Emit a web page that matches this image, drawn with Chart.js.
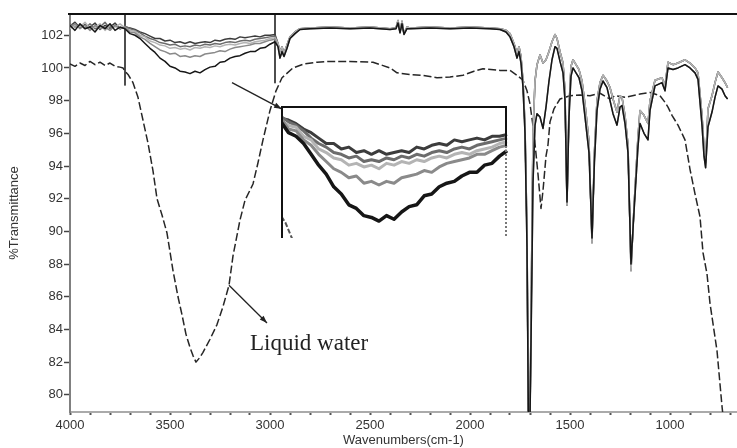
<!DOCTYPE html>
<html>
<head>
<meta charset="utf-8">
<script src="https://cdn.jsdelivr.net/npm/chart.js@4.4.1/dist/chart.umd.min.js"></script>
<style>
  html, body { margin: 0; padding: 0; background: #fff; }
  #wrap { position: relative; width: 737px; height: 448px; }
  #wrap canvas { display: block; }
  #inset { position: absolute; left: 281px; top: 106px; background: #fff; }
</style>
</head>
<body>
<div id="wrap">
  <canvas id="spectrum" width="737" height="448"></canvas>
  <canvas id="inset" width="227" height="132"></canvas>
</div>
<script>
// axis ticks
const xTickLabels = [4000, 3500, 3000, 2500, 2000, 1500, 1000];
const xMinorTicks = [4000, 3900, 3800, 3700, 3600, 3500, 3400, 3300, 3200, 3100, 3000, 2900, 2800, 2700,
  2600, 2500, 2400, 2300, 2200, 2100, 2000, 1900, 1800, 1700, 1600, 1500, 1400, 1300, 1200, 1100,
  1000, 900, 800, 700];
const yTicks = [80, 82, 84, 86, 88, 90, 92, 94, 96, 98, 100, 102];

// wavenumber range blown up in the inset
const insetRange = [3725, 2975];

// O-H stretch region, shared grid for the five film spectra
const ohWn = [
  4000, 3975, 3950, 3925, 3900, 3875, 3850,
  3825, 3800, 3775, 3750, 3725, 3700, 3675,
  3650, 3625, 3600, 3575, 3550, 3525, 3500,
  3475, 3450, 3425, 3400, 3375, 3350, 3325,
  3300, 3275, 3250, 3225, 3200, 3175, 3150,
  3125, 3100, 3075, 3050, 3025, 3000, 2975];

const blackOH = [
  102.6, 102.3, 102.7, 102.4, 102.5, 102.2, 102.6,
  102.4, 102.7, 102.3, 102.5, 102.4, 102.1, 102.0,
  101.8, 101.5, 101.2, 100.95, 100.6, 100.4, 100.1,
  100.0, 99.8, 99.75, 99.65, 99.8, 99.7, 99.9,
  100.05, 100.1, 100.35, 100.4, 100.6, 100.7, 100.75,
  100.9, 101.0, 101.0, 101.2, 101.25, 101.45, 101.6];

const grayLowOH = [
  102.5, 102.7, 102.4, 102.6, 102.3, 102.6, 102.4,
  102.5, 102.3, 102.6, 102.4, 102.5, 102.2, 102.15,
  101.9, 101.75, 101.5, 101.3, 101.1, 101.0, 100.85,
  100.9, 100.7, 100.75, 100.65, 100.75, 100.7, 100.85,
  100.9, 100.95, 101.05, 101.0, 101.15, 101.25, 101.3,
  101.35, 101.4, 101.5, 101.5, 101.6, 101.7, 101.75];

const lightOH = [
  102.4, 102.6, 102.5, 102.8, 102.4, 102.5, 102.7,
  102.3, 102.6, 102.5, 102.7, 102.45, 102.3, 102.25,
  102.0, 101.9, 101.65, 101.55, 101.4, 101.35, 101.2,
  101.25, 101.15, 101.2, 101.1, 101.25, 101.2, 101.3,
  101.25, 101.35, 101.3, 101.4, 101.45, 101.4, 101.5,
  101.55, 101.5, 101.6, 101.65, 101.7, 101.8, 101.85];

const midOH = [
  102.7, 102.5, 102.6, 102.4, 102.7, 102.4, 102.5,
  102.8, 102.4, 102.6, 102.4, 102.55, 102.4, 102.3,
  102.15, 101.95, 101.8, 101.7, 101.55, 101.5, 101.4,
  101.45, 101.3, 101.35, 101.3, 101.4, 101.35, 101.45,
  101.4, 101.5, 101.45, 101.55, 101.6, 101.55, 101.65,
  101.7, 101.65, 101.75, 101.8, 101.85, 101.9, 101.95];

const topOH = [
  102.55, 102.8, 102.45, 102.65, 102.5, 102.75, 102.35,
  102.6, 102.5, 102.75, 102.4, 102.5, 102.45, 102.35,
  102.2, 102.1, 101.95, 101.8, 101.8, 101.65, 101.7,
  101.55, 101.6, 101.5, 101.6, 101.5, 101.55, 101.6,
  101.55, 101.7, 101.65, 101.75, 101.8, 101.75, 101.9,
  101.85, 101.9, 101.95, 101.9, 102.0, 102.0, 102.05];

// fingerprint region below 3000 cm-1, where the film spectra overlap
const fpWn = [
  2960, 2950, 2940, 2930, 2915, 2900, 2875, 2850, 2800, 2700,
  2600, 2500, 2400, 2370, 2360, 2350, 2340, 2330, 2315, 2300,
  2200, 2100, 2000, 1900, 1850, 1820, 1800, 1780, 1765, 1755,
  1745, 1735, 1725, 1715, 1708, 1700, 1692, 1685, 1675, 1665,
  1650, 1635, 1620, 1605, 1590, 1575, 1565, 1550, 1535, 1525,
  1515, 1505, 1495, 1485, 1470, 1455, 1440, 1425, 1405, 1390,
  1378, 1365, 1350, 1335, 1315, 1300, 1285, 1265, 1250, 1240,
  1225, 1210, 1195, 1180, 1160, 1150, 1130, 1110, 1100, 1075,
  1040, 1025, 1010, 985, 960, 925, 900, 875, 860, 840,
  830, 822, 810, 790, 775, 760, 740, 725, 712];

const fpUpper = [
  101.5, 101.0, 101.3, 100.9, 101.4, 101.9, 102.2, 102.4, 102.45, 102.5,
  102.45, 102.5, 102.4, 102.45, 102.9, 102.2, 102.85, 102.1, 102.5, 102.45,
  102.5, 102.45, 102.5, 102.45, 102.4, 102.3, 102.1, 101.5, 100.9, 101.3,
  100.7, 99.2, 96.5, 90.0, 78.5, 78.5, 88.0, 96.0, 99.2, 100.2,
  100.8, 100.3, 100.5, 101.0, 101.6, 102.05, 101.8, 101.0, 100.3, 98.6,
  91.6, 97.6, 100.1, 100.5, 100.2, 99.9, 99.2, 97.8, 95.5, 89.3,
  94.8, 98.0, 99.1, 99.55, 99.2, 98.8, 98.1, 97.3, 98.3, 98.2,
  97.1, 95.3, 87.6, 91.5, 95.8, 97.4, 97.1, 96.6, 98.0, 99.25,
  99.4, 98.9, 100.35, 100.2, 100.3, 100.5, 100.3, 100.0, 99.7, 97.1,
  95.1, 94.2, 97.5, 98.3, 99.1, 99.75, 99.4, 99.1, 98.8];

const fpLower = [
  101.3, 100.6, 101.0, 100.7, 101.2, 101.8, 102.1, 102.35, 102.4, 102.45,
  102.4, 102.45, 102.35, 102.4, 102.75, 102.15, 102.7, 102.05, 102.4, 102.4,
  102.45, 102.4, 102.45, 102.4, 102.35, 102.2, 101.9, 101.3, 100.6, 101.0,
  100.3, 98.8, 96.0, 89.0, 78.5, 78.5, 86.0, 93.0, 96.5, 97.2,
  97.0, 96.3, 97.6, 99.2, 100.5, 101.3, 101.2, 100.4, 99.7, 98.0,
  91.8, 97.0, 99.5, 100.0, 99.7, 99.4, 98.6, 97.0, 94.8, 89.6,
  94.2, 97.4, 98.7, 99.2, 98.8, 98.0, 97.2, 96.5, 97.6, 97.7,
  96.6, 94.8, 88.0, 91.2, 95.2, 96.6, 96.0, 95.6, 97.4, 98.9,
  99.1, 98.6, 100.0, 99.9, 100.0, 100.2, 100.0, 99.7, 99.3, 96.5,
  94.6, 93.9, 96.4, 97.3, 98.2, 98.9, 98.7, 98.3, 98.1];

// liquid water reference spectrum
const waterWn = [
  4000, 3975, 3950, 3925, 3900, 3875, 3850, 3825, 3800, 3775,
  3750, 3735, 3725, 3710, 3700, 3685, 3660, 3635, 3610, 3585,
  3565, 3540, 3515, 3485, 3460, 3440, 3420, 3400, 3385, 3370,
  3350, 3335, 3300, 3265, 3235, 3205, 3185, 3150, 3125, 3085,
  3060, 3035, 3000, 2970, 2940, 2885, 2830, 2765, 2700, 2600,
  2485, 2400, 2365, 2300, 2235, 2165, 2100, 2035, 1980, 1935,
  1850, 1800, 1765, 1735, 1715, 1700, 1680, 1660, 1645, 1635,
  1620, 1610, 1600, 1580, 1550, 1500, 1450, 1400, 1350, 1300,
  1275, 1225, 1150, 1100, 1050, 1025, 1010, 990, 960, 925,
  900, 875, 850, 835, 815, 800, 765, 740, 720];

const waterT = [
  100.25, 100.1, 100.3, 100.15, 100.4, 100.2, 100.35, 100.15, 100.3, 100.1,
  100.05, 100.0, 99.8, 99.6, 99.4, 99.1, 98.2, 96.8, 95.4, 93.7,
  92.0, 91.0, 89.9, 87.6, 86.0, 84.9, 83.7, 82.9, 82.4, 82.0,
  82.3, 82.6, 83.4, 84.3, 85.4, 86.7, 88.5, 90.7, 91.9, 92.9,
  94.2, 95.6, 97.4, 98.6, 99.4, 100.0, 100.25, 100.35, 100.4, 100.4,
  100.35, 100.0, 99.7, 99.6, 99.55, 99.4, 99.45, 99.55, 99.8, 99.95,
  99.85, 99.85, 99.55, 99.25, 98.6, 97.8, 96.0, 93.5, 91.4, 92.5,
  94.6, 95.3, 96.7, 97.5, 98.1, 98.3, 98.35, 98.3, 98.45, 98.1,
  98.3, 98.2, 98.4, 98.5, 98.3, 97.9, 97.6, 97.1, 96.5, 95.6,
  93.8, 92.3, 90.9, 88.7, 87.4, 85.6, 82.7, 79.3, 77.0];

const FONT = "'Liberation Sans', Arial, sans-serif";

function toPoints(wn, t) {
  return wn.map((w, i) => ({ x: w, y: t[i] }));
}

// first entry is drawn on top
const films = [
  { color: '#161616', oh: blackOH, fp: fpLower, inW: 3.5 },
  { color: '#8a8a8a', oh: grayLowOH, fp: fpLower, inW: 3 },
  { color: '#b4b4b4', oh: lightOH, fp: fpUpper, inW: 3 },
  { color: '#6c6c6c', oh: midOH, fp: fpUpper, inW: 3 },
  { color: '#3c3c3c', oh: topOH, fp: fpUpper, inW: 3 }
];

const waterPoints = toPoints(waterWn, waterT);

const mainSets = films.map(f => ({
  data: toPoints(ohWn.concat(fpWn), f.oh.concat(f.fp)),
  borderColor: f.color,
  borderWidth: 1.5
}));
mainSets.push({
  data: waterPoints,
  borderColor: '#262626',
  borderWidth: 1.5,
  borderDash: [8, 3]
});
// vertical markers bounding the magnified range
mainSets.push({
  data: [
    { x: insetRange[0], y: 103.4 }, { x: insetRange[0], y: 98.95 }, { x: insetRange[0], y: null },
    { x: insetRange[1], y: 103.4 }, { x: insetRange[1], y: 99.1 }
  ],
  borderColor: '#222',
  borderWidth: 1.6,
  spanGaps: false
});

function drawArrow(ctx, x1, y1, x2, y2) {
  const ang = Math.atan2(y2 - y1, x2 - x1);
  ctx.beginPath();
  ctx.moveTo(x1, y1);
  ctx.lineTo(x2, y2);
  ctx.stroke();
  ctx.beginPath();
  ctx.moveTo(x2, y2);
  ctx.lineTo(x2 - 8 * Math.cos(ang - 0.35), y2 - 8 * Math.sin(ang - 0.35));
  ctx.lineTo(x2 - 8 * Math.cos(ang + 0.35), y2 - 8 * Math.sin(ang + 0.35));
  ctx.closePath();
  ctx.fill();
}

// top frame line, arrows and the water label
const annotate = {
  id: 'annotate',
  afterDraw(chart) {
    const { ctx, chartArea, scales: { x, y } } = chart;
    ctx.save();
    ctx.strokeStyle = '#111';
    ctx.lineWidth = 2;
    ctx.beginPath();
    ctx.moveTo(chartArea.left - 2, chartArea.top);
    ctx.lineTo(chartArea.right, chartArea.top);
    ctx.stroke();

    ctx.lineWidth = 1.3;
    ctx.strokeStyle = '#222';
    ctx.fillStyle = '#222';
    drawArrow(ctx, x.getPixelForValue(3190), y.getPixelForValue(99.1),
      x.getPixelForValue(2942), y.getPixelForValue(97.5));
    drawArrow(ctx, x.getPixelForValue(3205), y.getPixelForValue(86.7),
      x.getPixelForValue(3015), y.getPixelForValue(84.4));

    ctx.font = "23px 'Liberation Serif', 'Times New Roman', serif";
    ctx.textBaseline = 'alphabetic';
    ctx.textAlign = 'left';
    ctx.fillText('Liquid water', x.getPixelForValue(3100), y.getPixelForValue(82.75));
    ctx.restore();
  }
};

new Chart(document.getElementById('spectrum'), {
  type: 'line',
  data: { datasets: mainSets },
  options: {
    responsive: false,
    animation: false,
    events: [],
    layout: { padding: { top: 14, right: 0, bottom: 0, left: 0 } },
    plugins: { legend: { display: false }, tooltip: { enabled: false } },
    elements: { point: { radius: 0 }, line: { tension: 0, borderJoinStyle: 'round' } },
    scales: {
      x: {
        type: 'linear',
        reverse: true,
        min: 665,
        max: 4000,
        afterBuildTicks: s => { s.ticks = xMinorTicks.map(v => ({ value: v })); },
        afterFit: s => { s.height = 36; },
        ticks: {
          autoSkip: false,
          maxRotation: 0,
          padding: 3,
          color: '#333',
          font: { family: FONT, size: 13 },
          callback: v => xTickLabels.includes(v) ? String(v) : ''
        },
        grid: { drawOnChartArea: false, drawTicks: true, tickLength: 3, tickWidth: 2, tickColor: '#555' },
        border: { color: '#aaa', width: 2 },
        title: {
          display: true,
          text: 'Wavenumbers(cm-1)',
          color: '#333',
          font: { family: FONT, size: 13 },
          padding: { top: 0, bottom: 0 }
        }
      },
      y: {
        min: 78.95,
        max: 103.3,
        afterBuildTicks: s => { s.ticks = yTicks.map(v => ({ value: v })); },
        afterFit: s => { s.width = 70; },
        ticks: {
          padding: 1,
          color: '#333',
          font: { family: FONT, size: 13 },
          callback: v => String(v)
        },
        grid: { drawOnChartArea: false, drawTicks: true, tickLength: 6, tickWidth: 1.5, tickColor: '#444' },
        border: { color: '#808080', width: 2, dash: [2, 2] },
        title: {
          display: true,
          text: '%Transmittance',
          color: '#333',
          font: { family: FONT, size: 13 },
          padding: { top: 7, bottom: 0 }
        }
      }
    }
  },
  plugins: [annotate]
});

// magnified view of the O-H band
const insetSets = films.map(f => ({
  data: toPoints(ohWn, f.oh),
  borderColor: f.color,
  borderWidth: f.inW
}));
insetSets.push({
  data: waterPoints,
  borderColor: '#555',
  borderWidth: 2,
  borderDash: [5, 2]
});

const insetFrame = {
  id: 'insetFrame',
  afterDraw(chart) {
    const { ctx, width, height } = chart;
    ctx.save();
    ctx.strokeStyle = '#111';
    ctx.lineWidth = 2;
    ctx.beginPath();
    ctx.moveTo(1, height);
    ctx.lineTo(1, 1);
    ctx.lineTo(width - 2, 1);
    ctx.lineTo(width - 2, 40);
    ctx.stroke();
    ctx.strokeStyle = '#777';
    ctx.setLineDash([2, 2]);
    ctx.beginPath();
    ctx.moveTo(width - 2, 40);
    ctx.lineTo(width - 2, height - 2);
    ctx.stroke();
    ctx.restore();
  }
};

new Chart(document.getElementById('inset'), {
  type: 'line',
  data: { datasets: insetSets },
  options: {
    responsive: false,
    animation: false,
    events: [],
    layout: { padding: 0 },
    plugins: { legend: { display: false }, tooltip: { enabled: false } },
    elements: { point: { radius: 0 }, line: { tension: 0, borderJoinStyle: 'round' } },
    scales: {
      x: { type: 'linear', reverse: true, min: 2972, max: 3725, display: false },
      y: { min: 99.18, max: 102.84, display: false }
    }
  },
  plugins: [insetFrame]
});
</script>
</body>
</html>
